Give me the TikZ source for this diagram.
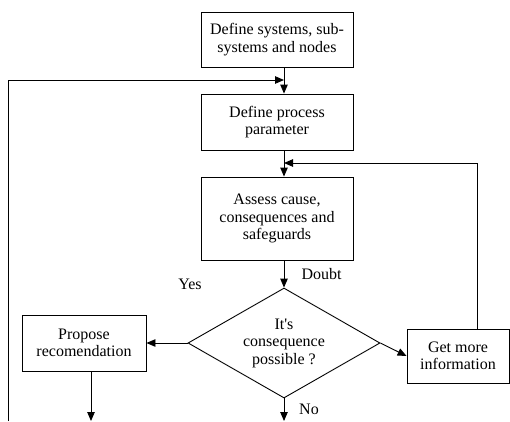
\documentclass[tikz,border=0pt]{standalone}
\usepackage{fontspec}
\setmainfont{Liberation Serif}
\usetikzlibrary{arrows.meta,shapes.geometric}
\begin{document}
\begin{tikzpicture}[x=1pt,y=-1pt,
  every node/.style={font=\fontsize{16}{17.5}\selectfont},
  box/.style={draw,line width=0.9pt,rectangle,inner sep=0pt,align=center},
  dec/.style={draw,line width=0.9pt,diamond,inner sep=0pt,align=center,shape aspect=1.745,minimum width=192pt,minimum height=110pt},
  conn/.style={line width=0.9pt},
  arr/.style={conn,-{Triangle[length=9pt,width=7.5pt]}},
  lbl/.style={inner sep=0pt}]
\useasboundingbox (0,0) rectangle (510,421);
\node[box,minimum width=152pt,minimum height=55pt] (b1) at (277,39.5) {Define systems, sub-\\systems and nodes};
\node[box,minimum width=152pt,minimum height=56pt] (b2) at (277,122) {Define process\\parameter};
\node[box,minimum width=152pt,minimum height=83pt] (b3) at (277,218.5) {Assess cause,\\consequences and\\safeguards};
\node[dec] (d) at (284,343) {It\textquotesingle s\\consequence\\possible ?};
\node[box,minimum width=124pt,minimum height=56pt] (p) at (84,343) {Propose\\recomendation};
\node[box,minimum width=102pt,minimum height=54pt] (g) at (458,356) {Get more\\information};
\node[lbl] (doubt) at (321.5,274) {Doubt};
\node[lbl] (yes) at (190,284) {Yes};
\node[lbl] (no) at (309,409) {No};
\coordinate (spine) at (284,0);
\coordinate (jl) at (284,80);
\coordinate (jr) at (284,163);
\coordinate (lb) at (8,421);
\coordinate (pb) at (91,421);
\coordinate (db) at (284,421);
\coordinate (gx) at (477,0);
% main spine
\draw[arr] (b1.south -| spine) -- (b2.north -| spine);
\draw[arr] (b2.south -| spine) -- (b3.north -| spine);
\draw[arr] (b3.south -| spine) -- (d.north);
\draw[arr] (d.west) -- (p.east);
\draw[arr] (d.east) -- (g.west);
\draw[arr] (d.south) -- (db);
\draw[arr] (p.south -| pb) -- (pb);
% loops
\draw[arr] (lb) |- (jl);
\draw[arr] (g.north -| gx) |- (jr);
\end{tikzpicture}
\end{document}
